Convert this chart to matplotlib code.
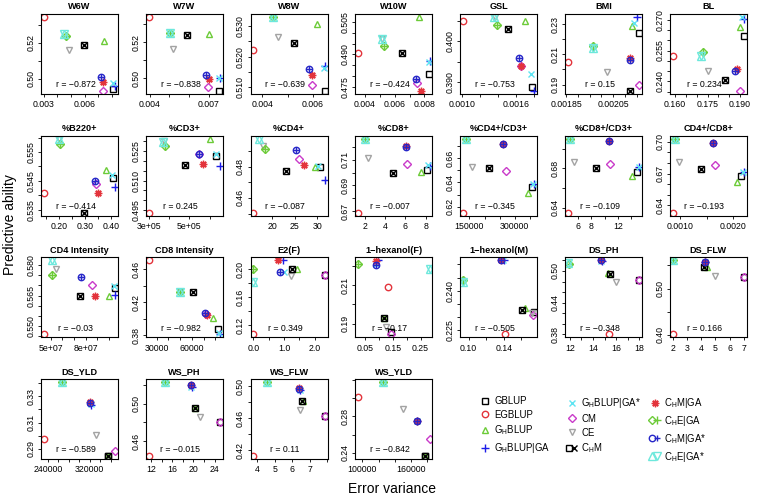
import numpy as np
import matplotlib
matplotlib.use("Agg")
import matplotlib.pyplot as plt
from matplotlib.lines import Line2D
from matplotlib.legend_handler import HandlerTuple

plt.rcParams['font.family'] = ['Liberation Sans', 'DejaVu Sans']
plt.rcParams['mathtext.fontset'] = 'custom'
plt.rcParams['mathtext.rm'] = 'Liberation Sans'
plt.rcParams['mathtext.it'] = 'Liberation Sans'

# ---------------- data ----------------
methods = ["GBLUP", "EGBLUP", r"G$_\mathregular{H}$BLUP", r"G$_\mathregular{H}$BLUP|GA",
           r"G$_\mathregular{H}$BLUP|GA*", "CM", "CE", r"C$_\mathregular{H}$M",
           r"C$_\mathregular{H}$M|GA", r"C$_\mathregular{H}$E|GA", r"C$_\mathregular{H}$M|GA*",
           r"C$_\mathregular{H}$E|GA*"]

titles = ["W6W", "W7W", "W8W", "W10W", "GSL", "BMI", "BL",
          "%B220+", "%CD3+", "%CD4+", "%CD8+", "%CD4+/CD3+", "%CD8+/CD3+", "CD4+/CD8+",
          "CD4 Intensity", "CD8 Intensity", "E2(F)", "1\u2212hexanol(F)", "1\u2212hexanol(M)", "DS_PH", "DS_FLW",
          "DS_YLD", "WS_PH", "WS_FLW", "WS_YLD"]

r_values = [-0.872, -0.838, -0.639, -0.424, -0.753, 0.15, 0.234,
            -0.414, 0.245, -0.087, -0.007, -0.345, -0.109, -0.193,
            -0.03, -0.982, 0.349, -0.17, -0.505, -0.348, 0.166,
            -0.589, -0.015, 0.11, -0.842]

# error variance (x), one row per trait, columns in the order of `methods`
error_variance = [
    [.00806, .0030, .00744, .00823, .00806, .00731, .00488, .00595, .00736, .00461, .00716, .00451],
    [.00752, .00395, .00702, .00755, .0075, .00695, .00517, .0059, .00699, .00503, .00683, .00501],
    [.00648, .00364, .00616, .00648, .00645, .00597, .00462, .00525, .00598, .00442, .00586, .00440],
    [.00827, .00357, .00766, .00834, .00832, .00748, .00515, .00649, .00775, .0053, .00744, .00515],
    [.00177, .00101, .0017, .0018, .00176, .00165, .00136, .00151, .00165, .00139, .00163, .001355],
    [.00216, .001857, .00213, .00215, .00214, .00216, .002023, .00212, .00212, .001963, .00212, .001963],
    [.1918, .1589, .1899, .1918, .1907, .1900, .1752, .1830, .1886, .1731, .1879, .1722],
    [.4064, .1427, .3809, .4140, .4038, .3401, .2010, .2955, .3503, .2025, .3363, .1997],
    [633000, 300000, 600000, 650000, 633000, 545000, 375000, 478000, 567000, 380000, 545000, 370000],
    [30.5, 15.9, 29.4, 31.6, 30.2, 25.9, 18.1, 23.1, 27.0, 18.5, 25.3, 17.2],
    [8.1, 1.38, 7.57, 8.36, 8.23, 6.16, 2.36, 4.82, 6.1, 2.0, 6.1, 2.0],
    [357600, 128900, 343000, 365000, 360000, 271000, 159000, 215000, 262000, 140000, 262000, 140000],
    [14.8, 4.55, 14.15, 15.15, 15.1, 10.85, 5.4, 8.7, 10.7, 4.9, 10.7, 4.9],
    [.00215, .000853, .00207, .00221, .00219, .00166, .00097, .0014, .00162, .000904, .00162, .000904],
    [1.05e8, 4.43e7, 1.0e8, 1.053e8, 1.039e8, 8.57e7, 5.49e7, 7.49e7, 8.77e7, 5.14e7, 7.63e7, 5.09e7],
    [82000, 23140, 78000, 83800, 83000, 72000, 50000, 60500, 72500, 49800, 71200, 49570],
    [2.33, 0.0, 1.41, 0.97, 1.0, 2.33, 1.22, 1.26, 0.81, 0.0, 0.86, 0.0],
    [.1424, .1316, .1195, .0958, .0900, .1424, .1243, .1195, .0898, .0259, .0898, .2825],
    [.175, .141, .1644, .1399, .139, .1731, .172, .1606, .1367, .0936, .1367, .0936],
    [17.97, 15.36, 15.3, 14.75, 14.7, 17.97, 15.94, 15.42, 14.65, 11.9, 14.67, 11.83],
    [7.0, 2.0, 4.4, 4.25, 4.25, 7.0, 4.98, 4.18, 4.25, 2.0, 4.25, 2.0],
    [355800, 232300, 355800, 323200, 322500, 368600, 331500, 355800, 320600, 267500, 320500, 267500],
    [25.0, 11.55, 20.3, 19.7, 19.6, 25.0, 21.3, 20.3, 19.5, 14.55, 19.5, 14.55],
    [7.85, 3.77, 6.6, 6.45, 6.45, 7.85, 6.41, 6.56, 6.35, 4.56, 6.37, 4.56],
    [177800, 95000, 177800, 167500, 167000, 182800, 150500, 177800, 167000, 126000, 167000, 126000],
]

# predictive ability (y)
predictive_ability = [
    [.4940, .5344, .5209, .4958, .4976, .4931, .5158, .5189, .4980, .5240, .5009, .5249],
    [.4929, .5340, .5244, .5000, .5003, .4949, .5162, .5242, .4998, .5250, .5016, .5251],
    [.5088, .5222, .5307, .5170, .5163, .5107, .5264, .5245, .5139, .5329, .5161, .5330],
    [.4810, .4908, .5073, .4869, .4866, .4768, .4969, .4908, .4730, .4938, .4788, .4969],
    [.3889, .4050, .4050, .3878, .3919, .3940, .4060, .4030, .3940, .4040, .3958, .4060],
    [.2242, .2050, .2285, .2347, .2310, .1894, .1981, .1857, .2074, .2158, .2061, .2143],
    [.2619, .2522, .2663, .2703, .2713, .2353, .2450, .2406, .2459, .2542, .2450, .2522],
    [.5459, .5408, .5488, .5430, .5471, .5439, .5594, .5339, .5408, .5579, .5448, .5596],
    [.5225, .4937, .5313, .5172, .5233, .5235, .5303, .5178, .5183, .5277, .5235, .5297],
    [.4800, .4505, .4800, .4716, .4806, .4852, .4932, .4770, .4810, .4915, .4907, .4980],
    [.7018, .6687, .7008, .7050, .7056, .7064, .7110, .6995, .7210, .7264, .7197, .7264],
    [.636, .615, .631, .639, .639, .649, .653, .652, .672, .676, .672, .676],
    [.6763, .6347, .6723, .6807, .6810, .6840, .6863, .6800, .7073, .7100, .7073, .7100],
    [.6675, .6329, .6625, .6712, .6718, .678, .6811, .6743, .699, .7031, .699, .7031],
    [.5686, .5458, .5650, .5653, .5695, .5702, .5780, .5650, .5650, .5751, .5744, .5824],
    [.3872, .4708, .4008, .3808, .3825, .4060, .4328, .4320, .4048, .4328, .4072, .4328],
    [.1916, .1069, .2000, .2127, .1966, .1916, .1897, .2000, .2127, .2000, .1966, .1820],
    [.1854, .2091, .1931, .2230, .2210, .1843, .1883, .1931, .2225, .2213, .2204, .2183],
    [.2319, .2235, .2334, .2515, .2515, .2309, .2315, .2328, .2515, .2442, .2515, .2433],
    [.4826, .3800, .4957, .5190, .5195, .4826, .4795, .4938, .5200, .5130, .5198, .5143],
    [.5252, .4007, .5475, .5583, .5583, .5252, .5273, .5475, .5583, .5611, .5583, .5611],
    [.2846, .2977, .2846, .3234, .3240, .2886, .3006, .2846, .3256, .3406, .3244, .3406],
    [.4807, .4439, .4958, .5175, .5180, .4807, .4860, .4958, .5196, .5232, .5196, .5232],
    [.4631, .4126, .4815, .4955, .4955, .4631, .4705, .4815, .4975, .5053, .4967, .5053],
    [.2364, .3013, .2364, .2746, .2746, .2555, .2886, .2364, .2746, .3178, .2746, .3178],
]

x_tick_labels = [["0.003", "0.006"], ["0.004", "0.007"], ["0.004", "0.006"], ["0.004", "0.006", "0.008"],
                 ["0.0010", "0.0016"], ["0.00185", "0.00205"], ["0.160", "0.175", "0.190"],
                 ["0.20", "0.30", "0.40"], ["3e+05", "5e+05"], ["20", "25", "30"], ["2", "4", "6", "8"],
                 ["150000", "300000"], ["6", "8", "12"], ["0.0010", "0.0020"],
                 ["5e+07", "8e+07"], ["30000", "60000"], ["0.0", "1.0", "2.0"], ["0.05", "0.15", "0.25"],
                 ["0.10", "0.14", "0.18"], ["12", "14", "16", "18"], ["2", "3", "4", "5", "6", "7"],
                 ["240000", "320000"], ["12", "16", "20", "24"], ["4", "5", "6", "7"], ["100000", "160000"]]
x_tick_step = [.001, .001, .001, .001, .0002, .00005, .005,
               .05, 1e5, 5, 2, 50000, 2, .0005,
               1e7, 10000, .5, .05, .02, 1, 1,
               20000, 2, 1, 20000]

y_tick_labels = [["0.50", "0.52"], ["0.50", "0.52"], ["0.510", "0.520", "0.530"], ["0.475", "0.490", "0.505"],
                 ["0.390", "0.400"], ["0.19", "0.21", "0.23"], ["0.240", "0.255", "0.270"],
                 ["0.535", "0.545", "0.555"], ["0.495", "0.510", "0.525"], ["0.46", "0.48"],
                 ["0.67", "0.69", "0.71", "0.73"], ["0.62", "0.64", "0.66", "0.68"], ["0.64", "0.68"],
                 ["0.64", "0.67", "0.70"],
                 ["0.550", "0.565", "0.580"], ["0.38", "0.42", "0.46"], ["0.12", "0.16", "0.20"],
                 ["0.19", "0.21"], ["0.225", "0.240", "0.255"], ["0.38", "0.44", "0.50"], ["0.40", "0.50"],
                 ["0.29", "0.31", "0.33"], ["0.46", "0.50"], ["0.42", "0.46", "0.50"], ["0.24", "0.28"]]
y_tick_step = [.01, .01, .005, .005, .005, .01, .005,
               .005, .005, .01, .01, .01, .02, .01,
               .005, .02, .02, .01, .005, .02, .05,
               .01, .02, .02, .02]

# ---------------- styles ----------------
colors = ['black', '#E3343C', '#6CCB38', '#1C1CE8', '#5EE4F2', '#C93BC9', '#A3A3A3',
          'black', '#E3343C', '#6CCB38', '#2626C8', '#6DE8DC']
LW = 1.0


def marker_parts(k):
    """R pch 0..11 approximated by (possibly overlaid) matplotlib markers."""
    if k == 0:
        return [dict(marker='s', mfc='none', ms=4.0)]
    if k == 1:
        return [dict(marker='o', mfc='none', ms=4.6)]
    if k == 2:
        return [dict(marker='^', mfc='none', ms=5.0)]
    if k == 3:
        return [dict(marker='+', ms=5.6)]
    if k == 4:
        return [dict(marker='x', ms=4.2)]
    if k == 5:
        return [dict(marker='D', mfc='none', ms=3.8)]
    if k == 6:
        return [dict(marker='v', mfc='none', ms=5.0)]
    if k == 7:
        return [dict(marker='s', mfc='none', ms=4.0), dict(marker='x', ms=4.0)]
    if k == 8:
        return [dict(marker=(8, 2, 0), ms=5.4)]
    if k == 9:
        return [dict(marker='D', mfc='none', ms=3.8), dict(marker='+', ms=5.3)]
    if k == 10:
        return [dict(marker='o', mfc='none', ms=4.6), dict(marker='+', ms=4.6)]
    return [dict(marker='^', mfc='none', ms=5.2), dict(marker='v', mfc='none', ms=5.2)]


def pad_limits(vals):
    lo, hi = min(vals), max(vals)
    d = (hi - lo) * 0.04
    return lo - d, hi + d


def ticks_for(lim, step, labels):
    lo, hi = lim
    start = np.ceil(lo / step - 1e-9) * step
    vals = np.arange(start, hi + step * 1e-6, step)
    labs = []
    for v in vals:
        s = ''
        for l in labels:
            if abs(float(l) - v) < step * 1e-3:
                s = l
        labs.append(s)
    return vals, labs


W, H = 757, 496
fig = plt.figure(figsize=(W / 100, H / 100), dpi=100)
FS = 6.3

for i, title in enumerate(titles):
    row, col = divmod(i, 7)
    left = 41 + 104.8 * col
    top = 14 + 121.7 * row
    aw, ah = 77, 80
    ax = fig.add_axes([left / W, 1 - (top + ah) / H, aw / W, ah / H])
    xs = error_variance[i]
    ys = predictive_ability[i]
    for k in range(12):
        for part in marker_parts(k):
            ax.plot([xs[k]], [ys[k]], ls='none', color=colors[k], mec=colors[k], mew=LW, **part)
    xl = pad_limits(xs)
    yl = pad_limits(ys)
    ax.set_xlim(xl)
    ax.set_ylim(yl)
    xv, xlab = ticks_for(xl, x_tick_step[i], x_tick_labels[i])
    yv, ylab = ticks_for(yl, y_tick_step[i], y_tick_labels[i])
    ax.set_xticks(xv)
    ax.set_xticklabels(xlab, fontsize=FS)
    ax.set_yticks(yv)
    ax.set_yticklabels(ylab, fontsize=FS, rotation=90, va='center')
    ax.tick_params(axis='both', direction='out', length=2.4, width=0.6, color='black')
    ax.tick_params(axis='x', pad=2.2)
    ax.tick_params(axis='y', pad=1.6)
    for sp in ax.spines.values():
        sp.set_linewidth(0.8)
    ax.set_title(title, fontsize=FS + 0.3, fontweight='bold', pad=3.5)
    rtxt = ("r = " + str(r_values[i])).replace('-', '\u2212')
    ax.text(0.45, 0.115, rtxt, transform=ax.transAxes, ha='center', va='center', fontsize=FS)

fig.text(10 / W, 1 - 225 / H, "Predictive ability", rotation=90, ha='center', va='center', fontsize=10)
fig.text(392 / W, 1 - 489 / H, "Error variance", ha='center', va='center', fontsize=10)

handles = []
for k in range(12):
    parts = [Line2D([], [], ls='none', color=colors[k], mec=colors[k], mew=LW, **p) for p in marker_parts(k)]
    handles.append(tuple(parts))

# legend laid out as three columns of four entries
for c, xpix in enumerate([480, 567, 650]):
    idx = range(4 * c, 4 * c + 4)
    leg = fig.legend([handles[j] for j in idx], [methods[j] for j in idx], loc='upper left',
                     bbox_to_anchor=(xpix / W, 1 - 396 / H), frameon=False, fontsize=6.9,
                     handlelength=1.0, handletextpad=0.5, labelspacing=0.4,
                     borderaxespad=0, borderpad=0, handler_map={tuple: HandlerTuple(ndivide=None)})

fig.savefig("out.png", dpi=100)
